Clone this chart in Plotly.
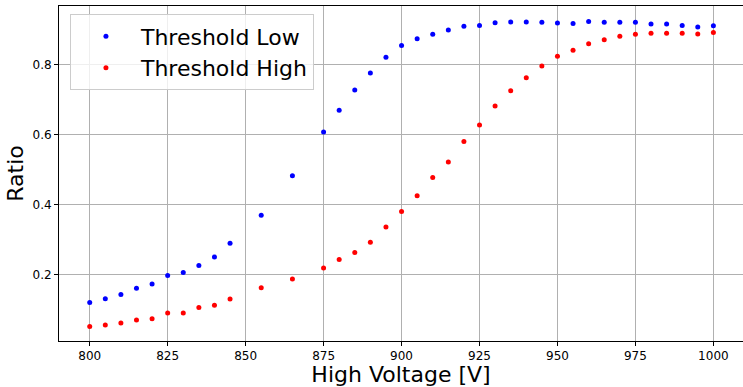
import plotly.graph_objects as go

voltage = [800, 805, 810, 815, 820, 825, 830, 835, 840, 845, 855, 865,
           875, 880, 885, 890, 895, 900, 905, 910, 915, 920, 925, 930,
           935, 940, 945, 950, 955, 960, 965, 970, 975, 980, 985, 990,
           995, 1000]

ratio_low = [0.120, 0.131, 0.143, 0.161, 0.173, 0.197, 0.206, 0.226, 0.250, 0.289,
             0.369, 0.482, 0.607, 0.669, 0.727, 0.775, 0.820, 0.854, 0.873, 0.886,
             0.898, 0.909, 0.911, 0.919, 0.921, 0.921, 0.920, 0.918, 0.917, 0.922,
             0.920, 0.920, 0.920, 0.915, 0.915, 0.911, 0.907, 0.910]

ratio_high = [0.052, 0.056, 0.062, 0.070, 0.074, 0.090, 0.090, 0.106, 0.112, 0.130,
              0.162, 0.187, 0.219, 0.243, 0.263, 0.292, 0.336, 0.380, 0.425, 0.477,
              0.521, 0.580, 0.627, 0.681, 0.725, 0.762, 0.795, 0.823, 0.840, 0.859,
              0.870, 0.880, 0.886, 0.889, 0.889, 0.889, 0.887, 0.891]

x_ticks = [800, 825, 850, 875, 900, 925, 950, 975, 1000]
y_ticks = [0.2, 0.4, 0.6, 0.8]

FONT = "DejaVu Sans, Verdana, sans-serif"

fig = go.Figure()
fig.add_trace(go.Scatter(x=voltage, y=ratio_low, mode="markers", name="Threshold Low",
                         marker=dict(color="#0000ff", size=5)))
fig.add_trace(go.Scatter(x=voltage, y=ratio_high, mode="markers", name="Threshold High",
                         marker=dict(color="#ff0000", size=5)))

fig.update_layout(
    width=743, height=387,
    margin=dict(l=59, r=0, t=6, b=46),
    paper_bgcolor="white", plot_bgcolor="white",
    font=dict(family=FONT, color="black", size=12),
    showlegend=True,
    legend=dict(x=0.016, y=0.975, xanchor="left", yanchor="top",
                bgcolor="rgba(255,255,255,0.8)", bordercolor="#cccccc", borderwidth=1,
                font=dict(size=22, family=FONT), itemwidth=60),
)
fig.update_xaxes(
    range=[790.15, 1009.5], tickvals=x_ticks, ticktext=[str(v) for v in x_ticks],
    showgrid=True, gridcolor="#b0b0b0", gridwidth=1,
    showline=True, linecolor="black", linewidth=1, mirror=True,
    ticks="outside", ticklen=4, tickcolor="black", zeroline=False,
    tickfont=dict(size=12),
    title=dict(text="High Voltage [V]", font=dict(size=22), standoff=4),
)
fig.update_yaxes(
    range=[0.0103, 0.9666], tickvals=y_ticks, ticktext=["0.2", "0.4", "0.6", "0.8"],
    showgrid=True, gridcolor="#b0b0b0", gridwidth=1,
    showline=True, linecolor="black", linewidth=1, mirror=False,
    ticks="outside", ticklen=4, tickcolor="black", zeroline=False,
    tickfont=dict(size=12),
    title=dict(text="Ratio", font=dict(size=22), standoff=2),
)

fig.write_html("out.html")
